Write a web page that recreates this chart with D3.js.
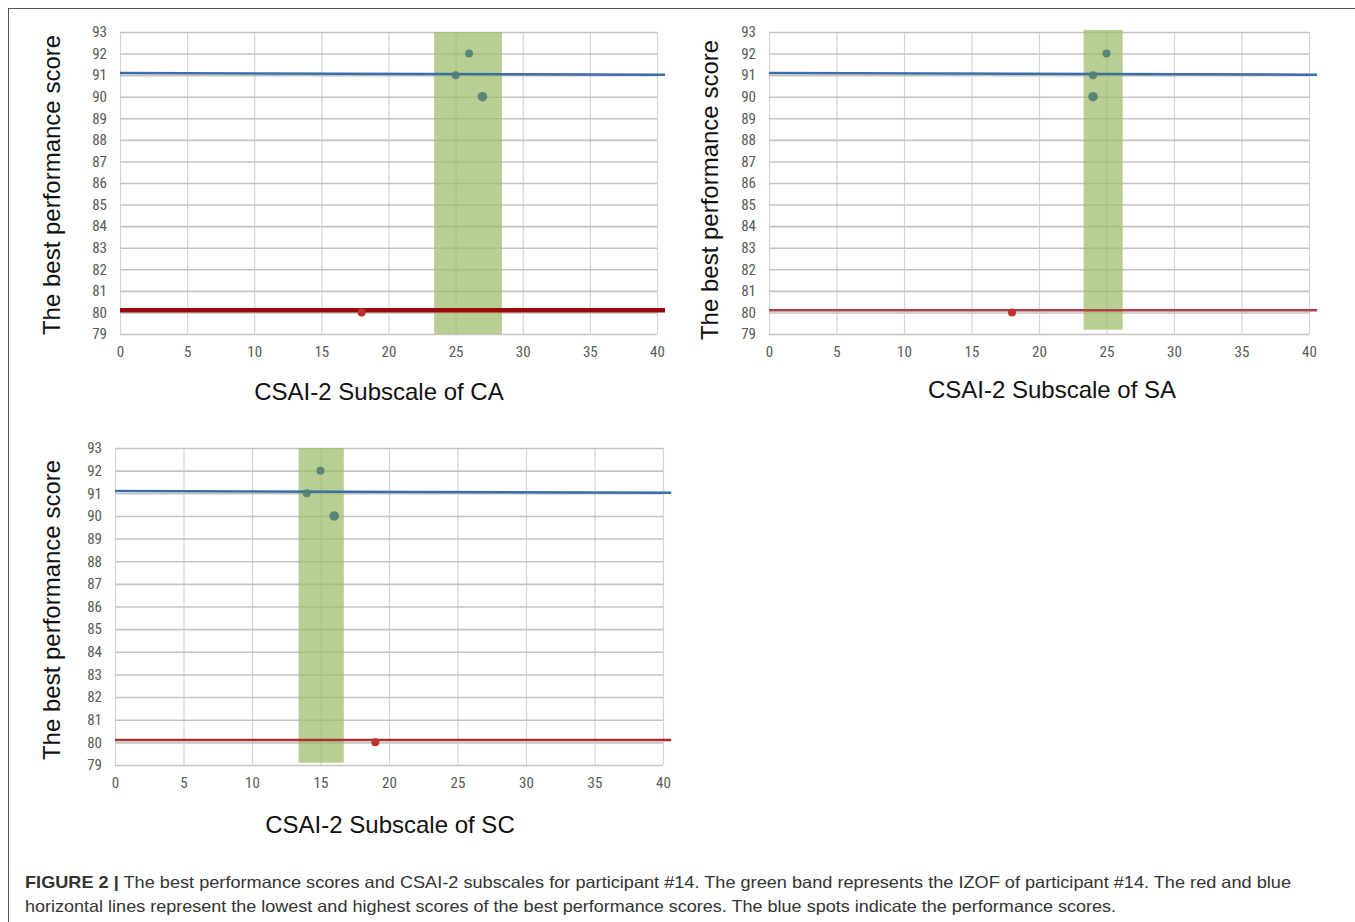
<!DOCTYPE html>
<html>
<head>
<meta charset="utf-8">
<script src="https://cdn.jsdelivr.net/npm/d3@7"></script>
<style>
  html, body { margin: 0; padding: 0; background: #fff; }
  svg { display: block; }
</style>
</head>
<body>
<svg id="chart" width="1355" height="922"></svg>
<script>
// ---------- DATA ----------
const xTicks = [0, 5, 10, 15, 20, 25, 30, 35, 40];
const yTicks = [79, 80, 81, 82, 83, 84, 85, 86, 87, 88, 89, 90, 91, 92, 93];
const yTitle = "The best performance score";
const panelTitles = ["CSAI-2 Subscale of CA", "CSAI-2 Subscale of SA", "CSAI-2 Subscale of SC"];

// performance score points [subscale, score]
const scoresCA = [[26, 92], [25, 91], [27, 90]];
const scoresSA = [[25, 92], [24, 91], [24, 90]];
const scoresSC = [[15, 92], [14, 91], [16, 90]];
// lowest-score points (red)
const lowCA = [[18, 80]];
const lowSA = [[18, 80]];
const lowSC = [[19, 80]];
// IZOF band [from, to]
const bandCA = [23.4, 28.45];
const bandSA = [23.3, 26.2];
const bandSC = [13.4, 16.7];
// highest / lowest horizontal lines (slightly tilted in source)
const highLine = [[0, 91.1], [40.6, 91.02]];
const lowLine = [[0, 80.1], [40.6, 80.1]];

const caption1Bold = "FIGURE 2 |";
const caption1 = " The best performance scores and CSAI-2 subscales for participant #14. The green band represents the IZOF of participant #14. The red and blue";
const caption2 = "horizontal lines represent the lowest and highest scores of the best performance scores. The blue spots indicate the performance scores.";

// ---------- LAYOUT ----------
const panels = [
  { title: panelTitles[0], scores: scoresCA, low: lowCA, band: bandCA,
    box: { l: 120, r: 657, t: 32, b: 334 }, bandB: 79, bandT: 93,
    yTitleX: 60, yTitleC: 185, xTitleX: 379, xTitleY: 400, redW: 4.5, redC: "#9b0a0a" },
  { title: panelTitles[1], scores: scoresSA, low: lowSA, band: bandSA,
    box: { l: 769, r: 1309, t: 32, b: 334 }, bandB: 79.2, bandT: 93.1,
    yTitleX: 718, yTitleC: 190, xTitleX: 1052, xTitleY: 398, redW: 2.5, redC: "#b04040" },
  { title: panelTitles[2], scores: scoresSC, low: lowSC, band: bandSC,
    box: { l: 115, r: 663, t: 448, b: 765 }, bandB: 79.1, bandT: 93,
    yTitleX: 60, yTitleC: 610, xTitleX: 390, xTitleY: 833, redW: 2.5, redC: "#a83232" }
];

const svg = d3.select("#chart");

// outer frame
svg.append("rect").attr("x", 8.5).attr("y", 8.5).attr("width", 1360).attr("height", 930)
  .attr("fill", "none").attr("stroke", "#555").attr("stroke-width", 1);

const tickFont = "'Liberation Sans Narrow', 'Roboto Condensed', 'DejaVu Sans Condensed', sans-serif";
const titleFont = "'Liberation Sans', Arial, sans-serif";

panels.forEach(p => {
  const x = d3.scaleLinear().domain([0, 40]).range([p.box.l, p.box.r]);
  const y = d3.scaleLinear().domain([79, 93]).range([p.box.b, p.box.t]);
  const g = svg.append("g");

  // vertical gridlines
  g.append("g").attr("transform", `translate(0,${p.box.b})`)
    .call(d3.axisBottom(x).tickValues(xTicks).tickSize(-(p.box.b - p.box.t)).tickFormat(""))
    .call(s => s.select(".domain").remove())
    .call(s => s.selectAll("line").attr("stroke", "#d4d4d4").attr("stroke-width", 1.2));
  // horizontal gridlines
  g.append("g").attr("transform", `translate(${p.box.l},0)`)
    .call(d3.axisLeft(y).tickValues(yTicks).tickSize(-(p.box.r - p.box.l)).tickFormat(""))
    .call(s => s.select(".domain").remove())
    .call(s => s.selectAll("line").attr("stroke", "#c4c4c4").attr("stroke-width", 1.6));

  // green band
  g.append("rect")
    .attr("x", x(p.band[0])).attr("width", x(p.band[1]) - x(p.band[0]))
    .attr("y", y(p.bandT)).attr("height", y(p.bandB) - y(p.bandT))
    .attr("fill", "#9dbb6a").attr("opacity", 0.72);

  // x tick labels
  g.append("g").attr("transform", `translate(0,${p.box.b + 8})`)
    .call(d3.axisBottom(x).tickValues(xTicks).tickSize(0).tickFormat(d3.format("d")))
    .call(s => s.select(".domain").remove())
    .call(s => s.selectAll("text").attr("fill", "#595959").attr("font-size", 15)
      .attr("font-family", tickFont).attr("dy", "0.8em"));
  // y tick labels
  g.append("g").attr("transform", `translate(${p.box.l - 10},0)`)
    .call(d3.axisLeft(y).tickValues(yTicks).tickSize(0).tickFormat(d3.format("d")))
    .call(s => s.select(".domain").remove())
    .call(s => s.selectAll("text").attr("fill", "#595959").attr("font-size", 15)
      .attr("font-family", tickFont));

  const line = d3.line().x(d => x(d[0])).y(d => y(d[1]));
  // blue (highest) line
  g.append("path").datum(highLine).attr("d", line)
    .attr("fill", "none").attr("stroke", "#3c6ea6").attr("stroke-width", 2.5);
  // red (lowest) line
  g.append("path").datum(lowLine).attr("d", line)
    .attr("fill", "none").attr("stroke", p.redC).attr("stroke-width", p.redW);

  // score points
  g.selectAll(".pt").data(p.scores).join("circle")
    .attr("cx", d => x(d[0])).attr("cy", d => y(d[1])).attr("r", (d, i) => i === 2 ? 4.8 : 4)
    .attr("fill", "#4f7f74").attr("opacity", 0.9);
  g.selectAll(".lp").data(p.low).join("circle")
    .attr("cx", d => x(d[0])).attr("cy", d => y(d[1])).attr("r", 4)
    .attr("fill", "#c0302c");

  // axis titles
  g.append("text")
    .attr("transform", `translate(${p.yTitleX},${p.yTitleC}) rotate(-90)`)
    .attr("text-anchor", "middle")
    .attr("font-family", titleFont).attr("font-size", 24)
    .attr("fill", "#111").text(yTitle);
  g.append("text")
    .attr("x", p.xTitleX).attr("y", p.xTitleY)
    .attr("text-anchor", "middle")
    .attr("font-family", titleFont).attr("font-size", 24)
    .attr("fill", "#111").text(p.title);
});

// caption
const c1 = svg.append("text").attr("x", 25).attr("y", 888)
  .attr("font-family", titleFont).attr("font-size", 16.5).attr("fill", "#333")
  .attr("textLength", 1266).attr("lengthAdjust", "spacingAndGlyphs");
c1.append("tspan").attr("font-weight", "bold").text(caption1Bold);
c1.append("tspan").text(caption1);
svg.append("text").attr("x", 25).attr("y", 912)
  .attr("font-family", titleFont).attr("font-size", 16.5).attr("fill", "#333")
  .attr("textLength", 1091).attr("lengthAdjust", "spacingAndGlyphs").text(caption2);
</script>
</body>
</html>
